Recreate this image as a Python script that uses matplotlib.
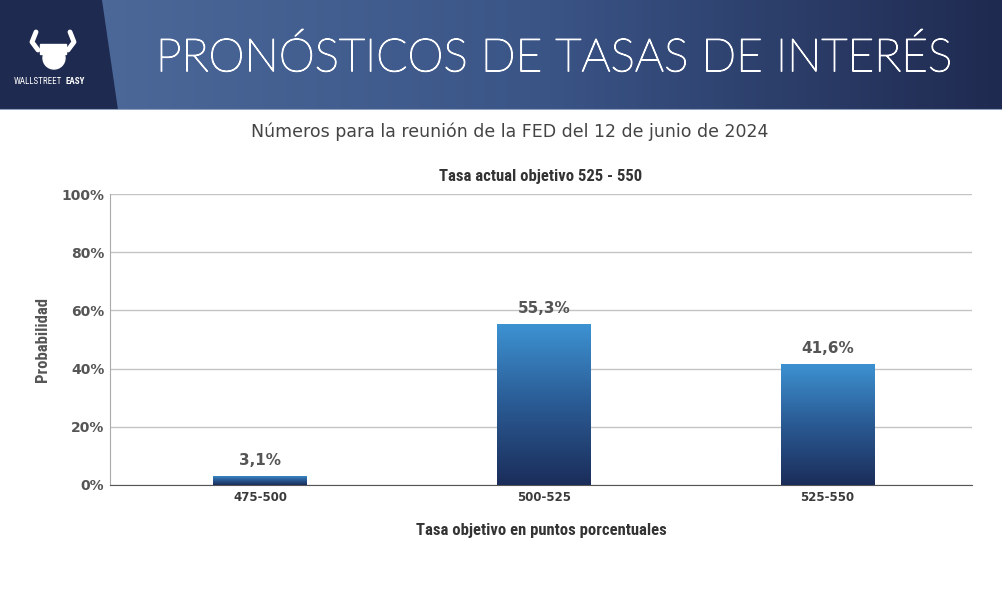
import numpy as np
import matplotlib.pyplot as plt
import matplotlib.patheffects as pe
from matplotlib.colors import LinearSegmentedColormap
from matplotlib.patches import Polygon

categorias = ['475-500', '500-525', '525-550']
probabilidades = [3.1, 55.3, 41.6]
etiquetas = ['3,1%', '55,3%', '41,6%']
ticks_y = [0, 20, 40, 60, 80, 100]
ticks_y_txt = ['0%', '20%', '40%', '60%', '80%', '100%']

titulo = 'PRONÓSTICOS DE TASAS DE INTERÉS'
subtitulo = 'Números para la reunión de la FED del 12 de junio de 2024'
titulo_graf = 'Tasa actual objetivo 525 - 550'
eje_x = 'Tasa objetivo en puntos porcentuales'
eje_y = 'Probabilidad'

W, H = 1003, 597
fig = plt.figure(figsize=(W / 100, H / 100), dpi=100)
fig.patch.set_facecolor('white')

fuente = ['Lato', 'DejaVu Sans']
negrita = ['DejaVu Sans']
estrecha = ['Liberation Sans Narrow', 'Roboto Condensed', 'DejaVu Sans']
gris = '#555555'

# cabecera
hh = 110
head = fig.add_axes([0, 1 - hh / H, 1, hh / H])
head.set_xlim(0, W)
head.set_ylim(hh, 0)
head.axis('off')
grad = LinearSegmentedColormap.from_list('g', ['#4b6899', '#3a5486', '#1f2a50'])
img = np.tile(np.linspace(0, 1, 300), (10, 1))
head.imshow(img, cmap=grad, extent=[100, W, hh, 0], aspect='auto', zorder=0)
head.add_patch(Polygon([[0, 0], [102, 0], [118, hh], [0, hh]], closed=True,
                       facecolor='#1e2a4f', edgecolor='none', zorder=1))
head.axhline(hh - 0.5, color='#8fa0bf', lw=1.5, zorder=2)
head.text(555, 58, titulo, color='white', fontsize=33, fontweight='light',
          family=fuente, ha='center', va='center', zorder=3,
          path_effects=[pe.withStroke(linewidth=0.9, foreground='white')])
# logo simplificado
head.add_patch(plt.Circle((54, 58), 11, color='white', zorder=3))
head.add_patch(plt.Rectangle((40, 44), 26, 10, color='white', zorder=3))
head.plot([38, 32, 36], [50, 42, 32], color='white', lw=3.5, zorder=3,
          solid_capstyle='round')
head.plot([68, 74, 70], [50, 42, 32], color='white', lw=3.5, zorder=3,
          solid_capstyle='round')
head.text(14, 81, 'WALLSTREET', color='white', fontsize=6.5, family=estrecha,
          ha='left', va='center', zorder=3)
head.text(66, 81, 'EASY', color='white', fontsize=6.5, fontweight='bold',
          family=estrecha, ha='left', va='center', zorder=3)

fig.text(510 / W, 1 - 132 / H, subtitulo, color='#444444', fontsize=12.5,
         family=['DejaVu Sans'], ha='center', va='center')

# grafico
ax = fig.add_axes([110 / W, 1 - 485 / H, 862 / W, 291 / H])
x = np.arange(len(categorias))
bars = ax.bar(x, probabilidades, width=0.33, color='none', zorder=3)
cmap_bar = LinearSegmentedColormap.from_list('b', ['#1b2d5a', '#2a5a93', '#3d92d2'])
grad_v = np.linspace(0, 1, 256).reshape(-1, 1)
for b in bars:
    x0, y0 = b.get_x(), b.get_y()
    w, h = b.get_width(), b.get_height()
    im = ax.imshow(grad_v, cmap=cmap_bar, origin='lower', aspect='auto',
                   extent=[x0, x0 + w, y0, y0 + h], zorder=3)
    im.set_clip_path(b)
for xi, v, t in zip(x, probabilidades, etiquetas):
    ax.annotate(t, (xi, v), xytext=(0, 6), textcoords='offset points',
                ha='center', va='bottom', fontsize=11, fontweight='bold',
                color=gris, family=negrita)

ax.set_xlim(-0.53, 2.51)
ax.set_ylim(0, 100)
ax.set_xticks(x)
ax.set_xticklabels(categorias, fontsize=8.5, fontweight='bold', color='#3a3a3a',
                   family=negrita)
ax.set_yticks(ticks_y)
ax.set_yticklabels(ticks_y_txt, fontsize=10, fontweight='bold', color=gris,
                   family=negrita)
ax.tick_params(length=0, pad=4)
ax.grid(axis='y', color='#c4c4c4', lw=1, zorder=0)
for s in ['top', 'right']:
    ax.spines[s].set_visible(False)
ax.spines['left'].set_color('#aaaaaa')
ax.spines['bottom'].set_color('#555555')
ax.set_title(titulo_graf, fontsize=12, fontweight='bold', color='#333333',
             family=estrecha, pad=9)
ax.set_xlabel(eje_x, fontsize=12, fontweight='bold', color='#333333',
              family=estrecha, labelpad=14)
ax.set_ylabel(eje_y, fontsize=12, fontweight='bold', color='#555555',
              family=estrecha, labelpad=8)

fig.savefig('out.png', dpi=100)
